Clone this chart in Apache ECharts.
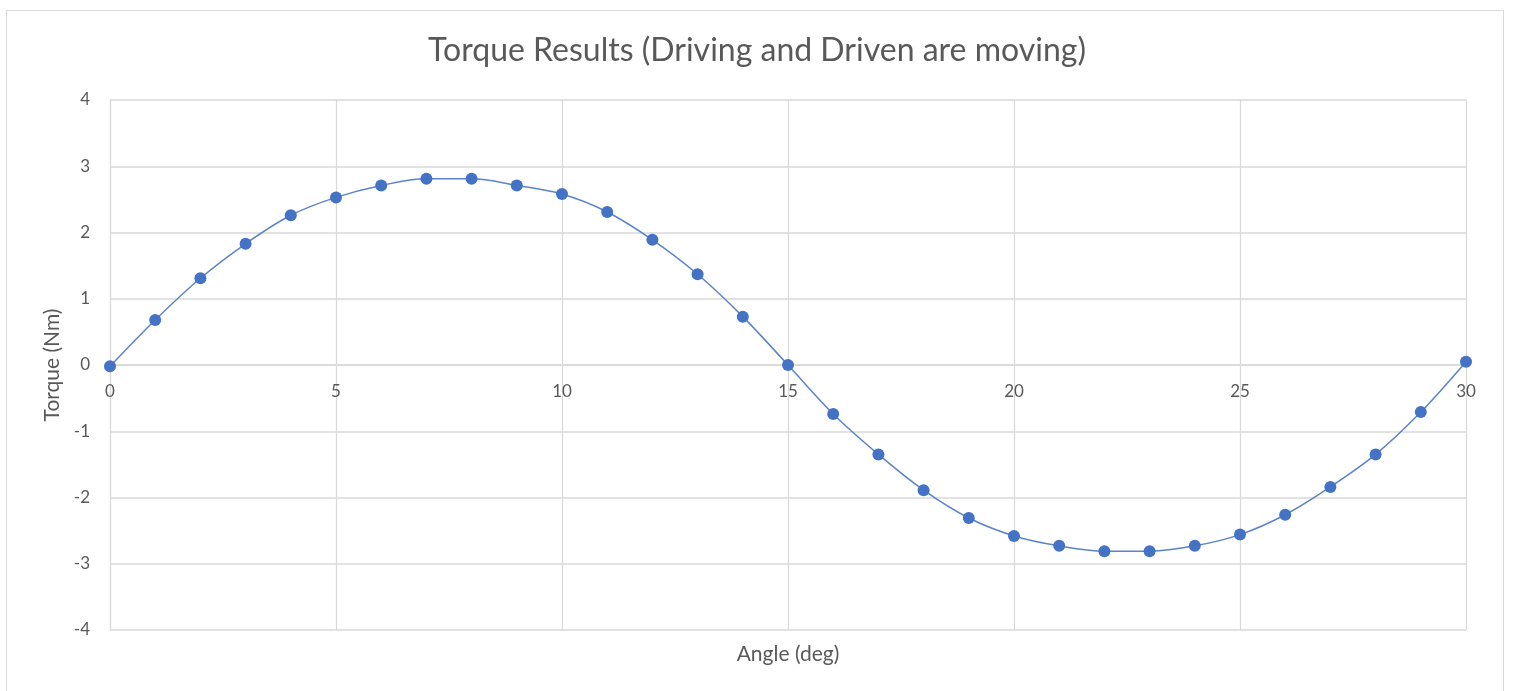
<!DOCTYPE html>
<html>
<head>
<meta charset="utf-8">
<script src="https://cdn.jsdelivr.net/npm/echarts@6/dist/echarts.min.js"></script>
<style>
html,body{margin:0;padding:0;background:#fff;width:1514px;height:691px;overflow:hidden;}
#frame{position:absolute;left:6px;top:10px;width:1498px;height:700px;border:1.5px solid #d9d9d9;box-sizing:border-box;}
#chart{position:absolute;left:0;top:0;width:1514px;height:691px;}
</style>
</head>
<body>
<div id="frame"></div>
<div id="chart"></div>
<script>
const angles = [0,1,2,3,4,5,6,7,8,9,10,11,12,13,14,15,16,17,18,19,20,21,22,23,24,25,26,27,28,29,30];
const torque = [-0.02,0.68,1.31,1.83,2.26,2.53,2.71,2.81,2.81,2.71,2.58,2.31,1.89,1.37,0.73,0.00,-0.74,-1.35,-1.89,-2.31,-2.58,-2.73,-2.81,-2.81,-2.73,-2.56,-2.26,-1.84,-1.35,-0.71,0.05];
const titleText = 'Torque Results (Driving and Driven are moving)';
const xTitle = 'Angle (deg)';
const yTitle = 'Torque (Nm)';

const font = 'Lato, "Open Sans", sans-serif';
const grey = '#595959';
const gridC = '#d9d9d9';
const chart = echarts.init(document.getElementById('chart'), null, {renderer:'canvas', width:1514, height:691});
chart.setOption({
  animation:false,
  backgroundColor:'transparent',
  title:{text:titleText,left:'center',top:30,textStyle:{fontFamily:font,fontSize:32,fontWeight:'normal',color:grey}},
  grid:{left:110,right:48,top:100,bottom:61,containLabel:false,outerBoundsMode:'none'},
  xAxis:{type:'value',min:0,max:30,interval:5,position:'bottom',offset:-265,
    name:xTitle,nameLocation:'middle',nameGap:279,
    nameTextStyle:{fontFamily:font,fontSize:21,color:grey},
    axisLine:{show:true,onZero:false,lineStyle:{color:gridC,width:1.5}},
    axisTick:{show:false},
    axisLabel:{fontFamily:font,fontSize:17,color:grey,margin:18},
    splitLine:{show:true,lineStyle:{color:gridC,width:1.2}}},
  yAxis:{type:'value',min:-4,max:4,interval:1,
    name:yTitle,nameLocation:'middle',nameGap:41,nameRotate:90,
    nameTextStyle:{fontFamily:font,fontSize:21,color:grey},
    axisLine:{show:true,onZero:false,lineStyle:{color:gridC,width:1.2}},
    axisTick:{show:false},
    axisLabel:{fontFamily:font,fontSize:17,color:grey,margin:20},
    splitLine:{show:true,lineStyle:{color:gridC,width:1.5}}},
  series:[{type:'line',data:angles.map((a,i)=>[a,torque[i]]),smooth:0.35,
    symbol:'circle',symbolSize:12,
    lineStyle:{color:'#5B84C8',width:1.5},
    itemStyle:{color:'#4472C4'}}]
});
</script>
</body>
</html>
